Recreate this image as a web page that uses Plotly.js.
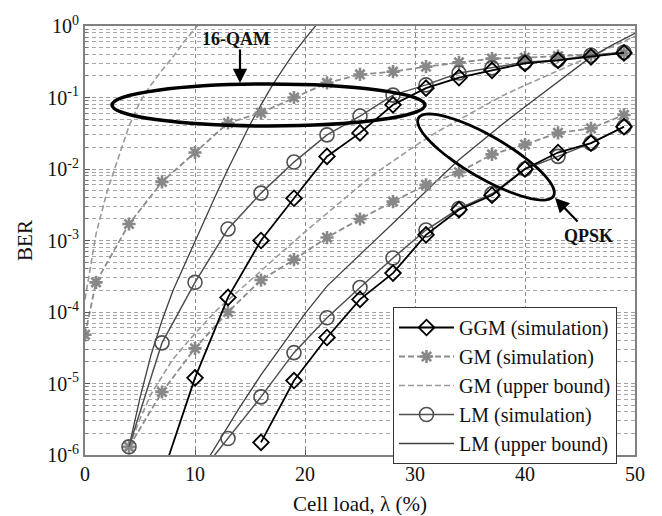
<!DOCTYPE html>
<html><head><meta charset="utf-8">
<script src="https://cdn.plot.ly/plotly-3.0.1.min.js"></script>
<style>html,body{margin:0;padding:0;background:#fff}#chart{width:662px;height:516px}</style>
</head><body><div id="chart"></div>
<script>
// ---- data ----
var ggmQamX = [7,10,13,16,19,22,25,28,31,34,37,40,43,46,49];
var ggmQamY = [5e-7,1.2e-5,1.6e-4,1.0e-3,3.9e-3,1.5e-2,3.2e-2,7.9e-2,0.135,0.19,0.24,0.30,0.33,0.37,0.42];
var ggmQpskX = [16,19,22,25,28,31,34,37,40,43,46,49];
var ggmQpskY = [1.5e-6,1.1e-5,4.4e-5,1.5e-4,3.5e-4,1.2e-3,2.7e-3,4.3e-3,1.0e-2,1.7e-2,2.3e-2,3.9e-2];

var gmQamX = [0,1,4,7,10,13,16,19,22,25,28,31,34,37,40,43,46,49];
var gmQamY = [4.8e-5,2.6e-4,1.7e-3,6.6e-3,1.7e-2,4.4e-2,6.1e-2,0.10,0.16,0.21,0.23,0.27,0.31,0.35,0.36,0.38,0.40,0.42];
var gmQpskX = [4,7,10,13,16,19,22,25,28,31,34,37,40,43,46,49];
var gmQpskY = [1.3e-6,7.6e-6,3.1e-5,1.0e-4,2.8e-4,5.4e-4,1.1e-3,2.0e-3,3.5e-3,6.0e-3,9.0e-3,1.6e-2,2.2e-2,3.2e-2,3.7e-2,5.7e-2];

var gmUbQamX = [0,1,2,3,4,5,6,7,8,9,10,11];
var gmUbQamY = [1.5e-4,1.23e-3,4.8e-3,1.4e-2,4.0e-2,8.7e-2,0.15,0.24,0.37,0.60,0.93,1.41];
var gmUbQpskX = [4,5,6,7,8,10,12,14,16,18,20,22,24,26,28,30,32,34,36,38,40,42,44,46,48,50];
var gmUbQpskY = [1.3e-6,3.2e-6,7.1e-6,1.26e-5,2.2e-5,5.0e-5,1.07e-4,2.0e-4,3.8e-4,7.1e-4,1.32e-3,2.4e-3,4.4e-3,7.9e-3,1.29e-2,2.1e-2,3.3e-2,4.9e-2,7.2e-2,0.107,0.148,0.204,0.28,0.38,0.52,0.72];

var lmQamX = [4,7,10,13,16,19,22,25,28,31,34,37,40,43,46,49];
var lmQamY = [1.3e-6,3.7e-5,2.6e-4,1.45e-3,4.6e-3,1.25e-2,3.0e-2,5.5e-2,0.108,0.15,0.22,0.26,0.31,0.335,0.39,0.43];
var lmQpskX = [10,13,16,19,22,25,28,31,34,37,40,43,46,49];
var lmQpskY = [4.5e-7,1.7e-6,6.5e-6,2.7e-5,8.3e-5,2.2e-4,5.7e-4,1.4e-3,2.8e-3,4.5e-3,1.0e-2,1.5e-2,2.3e-2,3.9e-2];

var lmUbQamX = [4,5,6,7,8,9,10,11,12,13,14,15,16,17,18,19,20,21];
var lmUbQamY = [1.3e-6,6.3e-6,2.5e-5,7.6e-5,2.0e-4,4.4e-4,1.0e-3,2.2e-3,4.7e-3,1.0e-2,2.1e-2,4.2e-2,7.9e-2,0.145,0.25,0.42,0.66,1.02];
var lmUbQpskX = [11,12,14,16,18,20,22,24,26,28,30,32,34,36,38,40,42,44,46,48,50];
var lmUbQpskY = [7.9e-7,1.4e-6,4.5e-6,1.32e-5,3.5e-5,9.5e-5,2.3e-4,4.6e-4,8.9e-4,1.74e-3,3.5e-3,6.9e-3,1.35e-2,2.4e-2,4.3e-2,7.4e-2,0.126,0.22,0.37,0.55,0.79];

var seriesNames = ['GGM (simulation)','GM (simulation)','GM (upper bound)','LM (simulation)','LM (upper bound)'];
var decadeExps = [-6,-5,-4,-3,-2,-1,0];
var xTickVals = [0,10,20,30,40,50];

// ---- layout constants (plot area in px) ----
var L = 85, T = 26, W = 550, H = 429;
function px2paperX(px){ return (px - L) / W; }
function px2paperY(py){ return (T + H - py) / H; }

// y ticks: labelled decades; minor grid positions 2..9 within each decade
var yTickVals = [], yTickText = [], yMinorVals = [];
decadeExps.forEach(function(e){
  yTickVals.push(Math.pow(10, e));
  yTickText.push('10<sup>' + e + '</sup>');
  if (e < 0) for (var m = 2; m <= 9; m++) yMinorVals.push(m * Math.pow(10, e));
});

var FONT = 'Liberation Serif, Times New Roman, serif';
var DASH = '6px,3px';

function tr(x, y, name, rank, show, style) {
  var t = {x: x, y: y, type: 'scatter', name: name, legendgroup: name, legendrank: rank,
           showlegend: show, hoverinfo: 'skip'};
  for (var k in style) t[k] = style[k];
  return t;
}
var sGGM = {mode: 'lines+markers', line: {color: '#000', width: 1.8},
  marker: {symbol: 'diamond-open', size: 12, color: '#000', line: {width: 1.8, color: '#000'}}};
var sGM = {mode: 'lines+markers', line: {color: '#8c8c8c', width: 1.8, dash: DASH},
  marker: {symbol: 'asterisk-open', size: 11, color: '#888', line: {width: 2.6, color: '#888'}}};
var sGMUB = {mode: 'lines', line: {color: '#9a9a9a', width: 1.6, dash: DASH}};
var sLM = {mode: 'lines+markers', line: {color: '#505050', width: 1.5},
  marker: {symbol: 'circle-open', size: 14, color: '#505050', line: {width: 1.6, color: '#505050'}}};
var sLMUB = {mode: 'lines', line: {color: '#404040', width: 1.3}};

var data = [
  tr(gmUbQamX, gmUbQamY, seriesNames[2], 3, true, sGMUB),
  tr(gmUbQpskX, gmUbQpskY, seriesNames[2], 3, false, sGMUB),
  tr(lmUbQamX, lmUbQamY, seriesNames[4], 5, true, sLMUB),
  tr(lmUbQpskX, lmUbQpskY, seriesNames[4], 5, false, sLMUB),
  tr(gmQamX, gmQamY, seriesNames[1], 2, true, sGM),
  tr(gmQpskX, gmQpskY, seriesNames[1], 2, false, sGM),
  tr(lmQamX, lmQamY, seriesNames[3], 4, true, sLM),
  tr(lmQpskX, lmQpskY, seriesNames[3], 4, false, sLM),
  tr(ggmQamX, ggmQamY, seriesNames[0], 1, true, sGGM),
  tr(ggmQpskX, ggmQpskY, seriesNames[0], 1, false, sGGM)
];

// tilted ellipse path (annotation drawing) in paper coords
function ellipsePath(cx, cy, a, b, deg) {
  var th = deg * Math.PI / 180, p = '';
  for (var i = 0; i <= 72; i++) {
    var t = i / 72 * 2 * Math.PI;
    var ex = a * Math.cos(t), ey = b * Math.sin(t);
    var px = cx + ex * Math.cos(th) - ey * Math.sin(th);
    var py = cy + ex * Math.sin(th) + ey * Math.cos(th);
    p += (i === 0 ? 'M ' : ' L ') + px2paperX(px).toFixed(5) + ' ' + px2paperY(py).toFixed(5);
  }
  return p + ' Z';
}

var layout = {
  width: 662, height: 516,
  margin: {l: L, r: 662 - L - W, t: T, b: 516 - T - H},
  paper_bgcolor: '#fff', plot_bgcolor: '#fff',
  font: {family: FONT, size: 20, color: '#111'},
  showlegend: true,
  legend: {x: px2paperX(393), y: px2paperY(307), xanchor: 'left', yanchor: 'top',
    bgcolor: '#fff', bordercolor: '#333', borderwidth: 1,
    font: {family: FONT, size: 20, color: '#111'},
    traceorder: 'grouped', tracegroupgap: 0, itemwidth: 55},
  xaxis: {range: [0, 50], tickvals: xTickVals, ticks: 'inside', ticklen: 5, tickcolor: '#555',
    showgrid: true, gridcolor: '#8a8a8a', griddash: '4px,3px', gridwidth: 1,
    showline: true, mirror: true, linecolor: '#808080', linewidth: 2, zeroline: false,
    tickfont: {family: FONT, size: 20, color: '#111'},
    title: {text: 'Cell load, λ (%)', font: {family: FONT, size: 21, color: '#111'}, standoff: 14}},
  yaxis: {type: 'log', range: [-6, 0], tickmode: 'array', tickvals: yTickVals, ticktext: yTickText,
    ticks: 'inside', ticklen: 5, tickcolor: '#555',
    showgrid: true, gridcolor: '#a0a0a0', griddash: '4px,3px', gridwidth: 1,
    minor: {tickmode: 'array', tickvals: yMinorVals, showgrid: true, gridcolor: '#a8a8a8',
            griddash: '4px,3px', gridwidth: 1, ticks: 'inside', ticklen: 3, tickcolor: '#777'},
    showline: true, mirror: true, linecolor: '#808080', linewidth: 2, zeroline: false,
    tickfont: {family: FONT, size: 20, color: '#111'},
    title: {text: 'BER', font: {family: FONT, size: 21, color: '#111'}}},
  shapes: [
    {type: 'circle', xref: 'paper', yref: 'paper',
     x0: px2paperX(112), x1: px2paperX(425), y0: px2paperY(126), y1: px2paperY(84),
     line: {color: '#000', width: 3.5}},
    {type: 'path', xref: 'paper', yref: 'paper', path: ellipsePath(486, 157, 78, 21, 30),
     line: {color: '#000', width: 2.8}}
  ],
  annotations: [
    {xref: 'paper', yref: 'paper', x: px2paperX(236), y: px2paperY(39), xanchor: 'center', yanchor: 'middle',
     text: '<b>16-QAM</b>', showarrow: false, font: {family: FONT, size: 18, color: '#111'}},
    {xref: 'paper', yref: 'paper', x: px2paperX(240), y: px2paperY(83), text: '',
     showarrow: true, arrowhead: 2, arrowsize: 1.3, arrowwidth: 2.2, arrowcolor: '#000', ax: 0, ay: -35, standoff: 0},
    {xref: 'paper', yref: 'paper', x: px2paperX(588), y: px2paperY(236), xanchor: 'center', yanchor: 'middle',
     text: '<b>QPSK</b>', showarrow: false, font: {family: FONT, size: 18, color: '#111'}},
    {xref: 'paper', yref: 'paper', x: px2paperX(555), y: px2paperY(198), text: '',
     showarrow: true, arrowhead: 2, arrowsize: 1.3, arrowwidth: 2.2, arrowcolor: '#000', ax: 24, ay: 25, standoff: 0}
  ]
};

Plotly.newPlot('chart', data, layout, {displayModeBar: false, staticPlot: true});
</script></body></html>
